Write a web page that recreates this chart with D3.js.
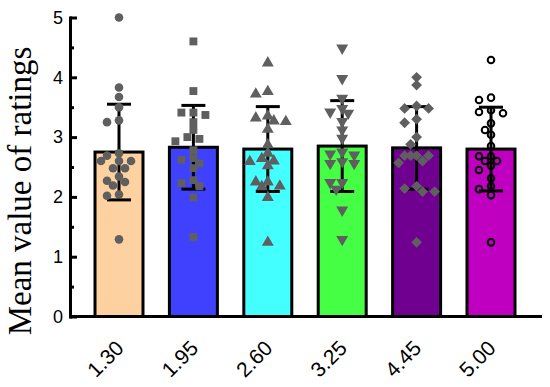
<!DOCTYPE html>
<html>
<head>
<meta charset="utf-8">
<script src="https://cdn.jsdelivr.net/npm/d3@7"></script>
<style>
  body { margin: 0; background: #fff; }
  svg { display: block; }
  .tick text { font-family: "Liberation Sans", Arial, sans-serif; }
</style>
</head>
<body>
<div id="chart"></div>
<script>
// dose groups on the x axis
const doses = ['1.30', '1.95', '2.60', '3.25', '4.45', '5.00']
const barColors = ['#fed1a0', '#4040ff', '#44ffff', '#44ff44', '#700090', '#c000c0']
// bar height = mean, error bar = mean +/- sd
const means = [2.75, 2.83, 2.80, 2.85, 2.82, 2.80]
const sds = [0.80, 0.70, 0.71, 0.76, 0.69, 0.70]
// individual ratings per group
const ratings1 = [5.00, 3.83, 3.67, 3.50, 3.28, 3.25, 2.73, 2.69, 2.60, 2.60, 2.60, 2.48, 2.48, 2.34, 2.27, 2.25, 2.19, 2.04, 2.02, 1.29]
const ratings2 = [4.60, 3.77, 3.41, 3.41, 3.37, 3.25, 3.12, 3.00, 2.97, 2.93, 2.78, 2.65, 2.62, 2.56, 2.48, 2.28, 2.23, 2.18, 1.99, 1.33]
const ratings3 = [4.24, 3.76, 3.72, 3.35, 3.32, 3.27, 3.26, 3.13, 2.87, 2.73, 2.64, 2.60, 2.59, 2.52, 2.25, 2.25, 2.18, 2.17, 1.99, 1.24]
const ratings4 = [4.49, 3.98, 3.65, 3.48, 3.42, 3.40, 3.26, 3.12, 2.98, 2.75, 2.72, 2.70, 2.59, 2.56, 2.56, 2.24, 2.24, 2.13, 1.78, 1.29]
const ratings5 = [4.00, 3.87, 3.52, 3.48, 3.48, 3.30, 3.24, 3.00, 2.88, 2.69, 2.69, 2.69, 2.69, 2.60, 2.57, 2.18, 2.14, 2.09, 2.09, 1.24]
const ratings6 = [4.29, 3.66, 3.62, 3.45, 3.42, 3.40, 3.23, 3.12, 3.04, 2.85, 2.68, 2.68, 2.60, 2.60, 2.52, 2.45, 2.31, 2.18, 2.13, 2.03, 1.24]
const ratings = [ratings1, ratings2, ratings3, ratings4, ratings5, ratings6]
const yTicks = [0, 1, 2, 3, 4, 5]
const yMinorTicks = [0.5, 1.5, 2.5, 3.5, 4.5]
const yTitle = 'Mean value of ratings'

const width = 550
const height = 387
const axisX = 70
const axisEnd = 542
const yTop = 17.5
const yBottom = 316.5
const pointColor = '#5f5f5f'

const svg = d3.select('#chart').append('svg')
  .attr('width', width)
  .attr('height', height)

const x = d3.scaleBand()
  .domain(doses)
  .range([81.8, 528.2])
  .paddingInner(0.355)
  .paddingOuter(0.1775)

const y = d3.scaleLinear()
  .domain([0, 5])
  .range([yBottom, yTop])

// bars
svg.append('g').selectAll('rect')
  .data(doses)
  .enter()
  .append('rect')
  .attr('x', d => x(d))
  .attr('width', x.bandwidth())
  .attr('y', (d, i) => y(means[i]))
  .attr('height', (d, i) => y(0) - y(means[i]))
  .attr('fill', (d, i) => barColors[i])
  .attr('stroke', '#000')
  .attr('stroke-width', 3)

// symbols like prism uses: circle, square, triangle up/down, diamond, open circle
const symbols = [
  { type: d3.symbolCircle, size: 58, rotate: 0, fill: pointColor, stroke: 'none' },
  { type: d3.symbolSquare, size: 62, rotate: 0, fill: pointColor, stroke: 'none' },
  { type: d3.symbolTriangle, size: 62, rotate: 0, fill: pointColor, stroke: 'none' },
  { type: d3.symbolTriangle, size: 62, rotate: 180, fill: pointColor, stroke: 'none' },
  { type: d3.symbolSquare, size: 58, rotate: 45, fill: pointColor, stroke: 'none' },
  { type: d3.symbolCircle, size: 34, rotate: 0, fill: 'none', stroke: '#000' }
]

// simple beeswarm: put each point as near the centre as it can go,
// overlap allowed a little, never wider than +/-18px
function swarm (values) {
  const placed = []
  const step = 6
  const minDist = 7.5
  const offsets = [0]
  for (let k = 1; k <= 3; k++) offsets.push(-k * step, k * step)
  values.forEach(v => {
    const py = y(v)
    let best = 0
    let bestGap = -1
    for (const o of offsets) {
      const gap = d3.min(placed, p => Math.hypot(p.dx - o, p.py - py))
      if (gap === undefined || gap >= minDist) { best = o; bestGap = Infinity; break }
      if (gap > bestGap) { bestGap = gap; best = o }
    }
    placed.push({ v, dx: best, py })
  })
  return placed
}

// error bars
const err = svg.append('g').attr('stroke', '#000').attr('stroke-width', 3)
doses.forEach((d, i) => {
  const cx = x(d) + x.bandwidth() / 2
  const hi = y(means[i] + sds[i])
  const lo = y(means[i] - sds[i])
  err.append('line').attr('x1', cx).attr('x2', cx).attr('y1', hi).attr('y2', lo)
  err.append('line').attr('x1', cx - 12).attr('x2', cx + 12).attr('y1', hi).attr('y2', hi)
  err.append('line').attr('x1', cx - 12).attr('x2', cx + 12).attr('y1', lo).attr('y2', lo)
})

// points
doses.forEach((d, i) => {
  const cx = x(d) + x.bandwidth() / 2
  const s = symbols[i]
  const sym = d3.symbol().type(s.type).size(s.size)
  svg.append('g').selectAll('path')
    .data(swarm(ratings[i]))
    .enter()
    .append('path')
    .attr('d', sym)
    .attr('transform', p => `translate(${cx + p.dx},${p.py}) rotate(${s.rotate})`)
    .attr('fill', s.fill)
    .attr('stroke', s.stroke)
    .attr('stroke-width', 2)
})

// y axis, ticks pointing inward
const yAxis = d3.axisLeft(y)
  .tickValues(yTicks)
  .tickFormat(d3.format('d'))
  .tickSizeInner(-7)
  .tickSizeOuter(0)
  .tickPadding(7)
const yAxisG = svg.append('g')
  .attr('transform', `translate(${axisX},0)`)
  .call(yAxis)
yAxisG.select('.domain').attr('stroke-width', 3).attr('stroke-linecap', 'square')
yAxisG.selectAll('.tick line').attr('stroke-width', 3)
yAxisG.selectAll('.tick text').attr('font-size', 18).attr('fill', '#000')

svg.append('g')
  .attr('transform', `translate(${axisX},0)`)
  .call(d3.axisLeft(y).tickValues(yMinorTicks).tickSizeInner(-4).tickSizeOuter(0).tickFormat(''))
  .call(g => g.select('.domain').remove())
  .selectAll('.tick line').attr('stroke-width', 3)

// x axis line
svg.append('line')
  .attr('x1', axisX)
  .attr('x2', axisEnd)
  .attr('y1', yBottom)
  .attr('y2', yBottom)
  .attr('stroke', '#000')
  .attr('stroke-width', 3)

// rotated dose labels (45 deg, written as a matrix)
const c45 = Math.SQRT1_2
svg.append('g').selectAll('text')
  .data(doses)
  .enter()
  .append('text')
  .text(d => d)
  .attr('transform', d => `matrix(${c45},${-c45},${c45},${c45},${x(d) + x.bandwidth() / 2 + 6},${yBottom + 33})`)
  .attr('text-anchor', 'end')
  .attr('font-family', '"Liberation Sans", Arial, sans-serif')
  .attr('font-size', 21)
  .attr('fill', '#000')

// y title
svg.append('text')
  .text(yTitle)
  .attr('transform', `translate(31,191) rotate(-90)`)
  .attr('text-anchor', 'middle')
  .attr('font-family', '"Liberation Serif", "Times New Roman", serif')
  .attr('font-size', 33)
  .attr('fill', '#000')
</script>
</body>
</html>
